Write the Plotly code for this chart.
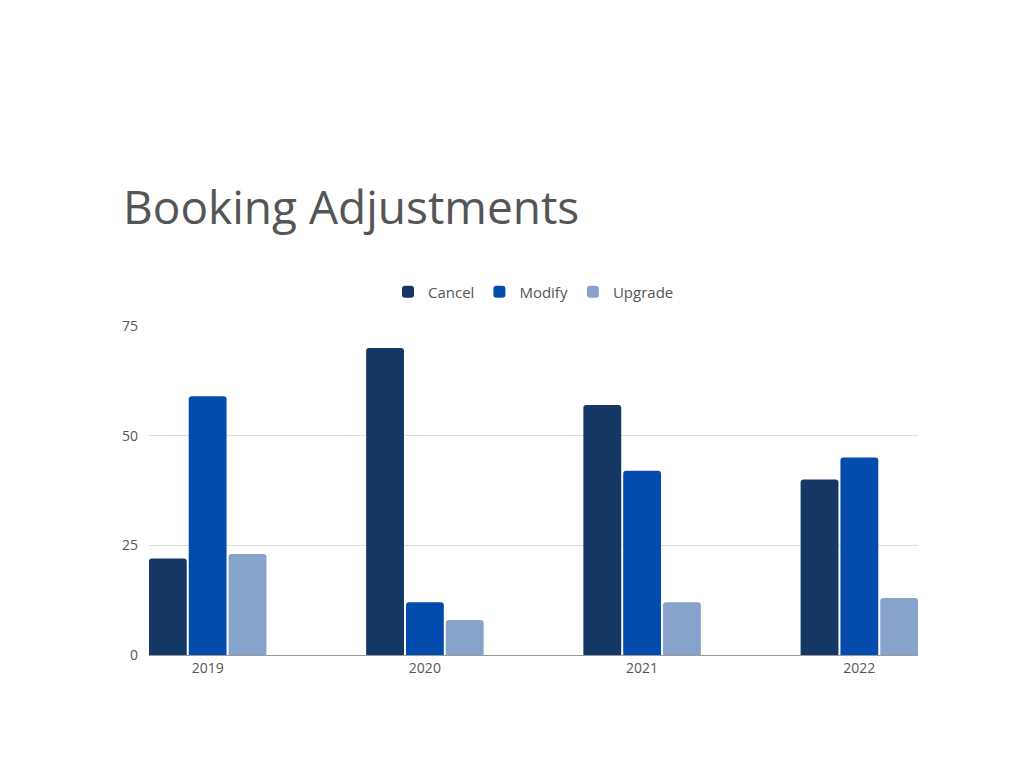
import plotly.graph_objects as go

years = ["2019", "2020", "2021", "2022"]
cancel = [22, 70, 57, 40]
modify = [59, 12, 42, 45]
upgrade = [23, 8, 12, 13]

series = [("Cancel", cancel, "#143763"), ("Modify", modify, "#034cae"), ("Upgrade", upgrade, "#87a3cc")]

fig = go.Figure()
for name, vals, color in series:
    fig.add_trace(go.Bar(x=years, y=vals, name=name, marker_color=color, marker_line_width=0))

fig.update_layout(
    width=1024, height=768,
    paper_bgcolor="white", plot_bgcolor="white",
    font=dict(family="Open Sans", color="#555555", size=14),
    title=dict(text="Booking Adjustments", x=115 / 1024, xanchor="left", y=1 - 200 / 768, yanchor="middle",
               font=dict(size=46, color="#555555")),
    margin=dict(l=141, r=114, t=318, b=121),
    barmode="group", bargap=0.45, bargroupgap=0.05, barcornerradius=3,
    legend=dict(orientation="h", x=0.5, xanchor="center", y=1 + 34 / 329, yanchor="middle",
                font=dict(size=15, color="#555555"), itemwidth=30),
    xaxis=dict(range=[-0.27, 3.27], showgrid=False, showline=True, linecolor="#999999",
               tickfont=dict(size=14, color="#555555"), ticks=""),
    yaxis=dict(range=[0, 75], tickvals=[0, 25, 50, 75], gridcolor="#dddddd", zeroline=False,
               tickfont=dict(size=14, color="#555555"), ticklabelstandoff=10),
)

fig.write_html("out.html")
